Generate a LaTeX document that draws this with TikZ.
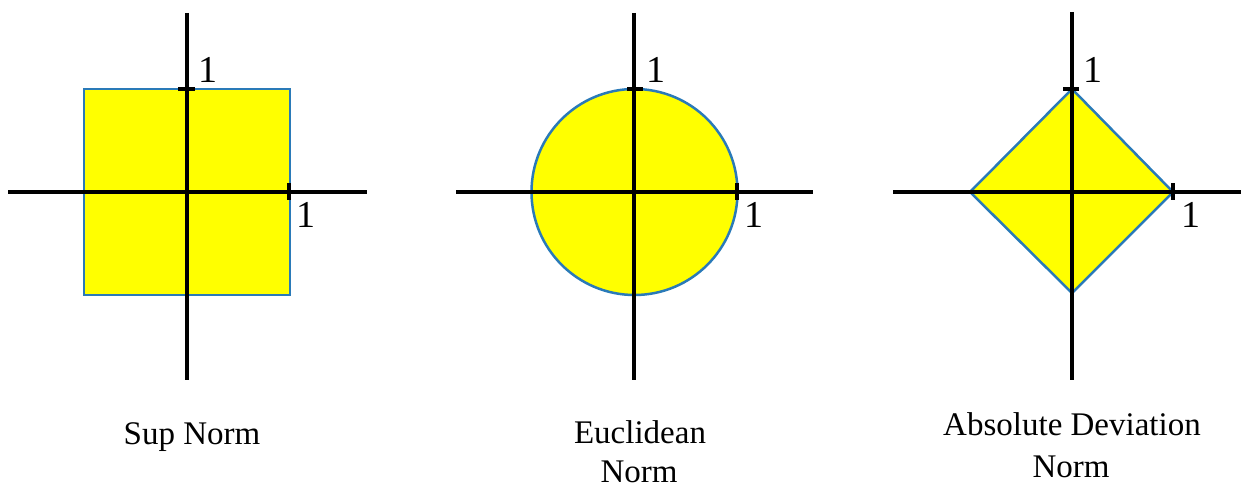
\documentclass[tikz,border=0pt]{standalone}
\usepackage{fontspec}
\setmainfont{Liberation Serif}
\definecolor{shapeblue}{HTML}{2A7AB8}
\definecolor{shapeyellow}{HTML}{FFFF00}
\tikzset{
  axis/.style={line width=3.6pt, black},
  tickmark/.style={line width=4.5pt, black},
  normshape/.style={fill=shapeyellow, draw=shapeblue, line width=2.5pt},
  onelabel/.style={font=\fontsize{38}{38}\selectfont, inner sep=0pt, anchor=base},
  caption/.style={font=\fontsize{33}{41}\selectfont, inner sep=0pt, align=center, anchor=base},
}
\begin{document}
\begin{tikzpicture}[x=1pt,y=-1pt]
\useasboundingbox (0,0) rectangle (1241,487);
% ---- Sup norm ----
\draw[normshape] (84,89) rectangle (290,295);
\coordinate (a1l) at (8,192); \coordinate (a1r) at (367,192);
\coordinate (a1t) at (187,13); \coordinate (a1b) at (187,380);
\draw[axis] (a1l) -- (a1r);
\draw[axis] (a1t) -- (a1b);
\coordinate (t1a) at (178,89); \coordinate (t1b) at (195,89);
\coordinate (t1c) at (289,183); \coordinate (t1d) at (289,200);
\draw[tickmark] (t1a) -- (t1b);
\draw[tickmark] (t1c) -- (t1d);
\node[onelabel] (l1a) at (208,82) {1};
\node[onelabel] (l1b) at (306,227) {1};
\node[caption] (c1) at (192,444) {Sup Norm};
% ---- Euclidean ----
\draw[normshape] (634.5,192) circle (103);
\coordinate (a2l) at (456,192); \coordinate (a2r) at (813,192);
\coordinate (a2t) at (634,13); \coordinate (a2b) at (634,380);
\draw[axis] (a2l) -- (a2r);
\draw[axis] (a2t) -- (a2b);
\coordinate (t2a) at (627,89); \coordinate (t2b) at (643,89);
\coordinate (t2c) at (737,183); \coordinate (t2d) at (737,200);
\draw[tickmark] (t2a) -- (t2b);
\draw[tickmark] (t2c) -- (t2d);
\node[onelabel] (l2a) at (656,82) {1};
\node[onelabel] (l2b) at (754,227) {1};
\node[caption] (c2a) at (640,443) {Euclidean};
\node[caption] (c2b) at (639,482) {Norm};
% ---- Absolute deviation ----
\draw[normshape] (1072,89) -- (1173,192) -- (1072,293) -- (970,192) -- cycle;
\coordinate (a3l) at (893,192); \coordinate (a3r) at (1241,192);
\coordinate (a3t) at (1072,12); \coordinate (a3b) at (1072,380);
\draw[axis] (a3l) -- (a3r);
\draw[axis] (a3t) -- (a3b);
\coordinate (t3a) at (1063,89); \coordinate (t3b) at (1079,89);
\coordinate (t3c) at (1173,183); \coordinate (t3d) at (1173,200);
\draw[tickmark] (t3a) -- (t3b);
\draw[tickmark] (t3c) -- (t3d);
\node[onelabel] (l3a) at (1093,82) {1};
\node[onelabel] (l3b) at (1191,227) {1};
\node[caption] (c3a) at (1072,435) {Absolute Deviation};
\node[caption] (c3b) at (1071,477) {Norm};
\end{tikzpicture}
\end{document}
